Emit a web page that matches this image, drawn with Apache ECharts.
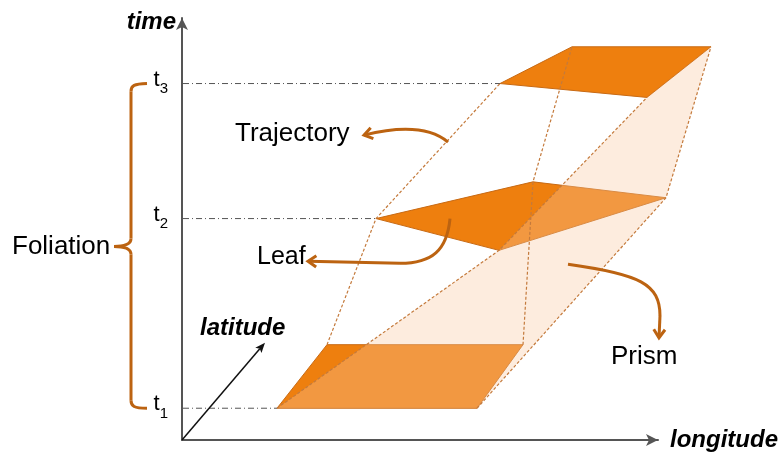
<!DOCTYPE html>
<html><head><meta charset="utf-8">
<script src="https://cdn.jsdelivr.net/npm/echarts@6/dist/echarts.min.js"></script>
<style>html,body{margin:0;padding:0;background:#fff}#c{width:781px;height:452px}</style>
</head><body><div id="c"></div>
<script>
// ---- data (axis units: x = longitude, y = time) ----
const timeTickValues = [41, 232, 368];
const timeTickSubs = ['1', '2', '3'];

const leafBottom = [[277, 41], [327, 105], [523, 105], [477, 41]];
const leafMiddle = [[376, 232], [533, 269], [666, 253], [499, 200]];
const leafTop = [[500, 368], [572, 405], [711, 405], [647, 354]];
const leaves = [leafBottom, leafMiddle, leafTop];

// vertex correspondences along the trajectories
const trajBottomIdx = [1, 0, 2, 3];
const trajMiddleIdx = [0, 3, 1, 2];
const trajTopIdx = [0, 3, 1, 2];

const latitudeFrom = [182, 9];
const latitudeTo = [265, 107];

const labelTexts = ['Trajectory', 'Leaf', 'Prism', 'Foliation'];
const labelSizes = [26, 25, 26, 26];
const labelPos = [[235, 317], [257, 193], [611, 93], [12, 204]];
const latitudeLabel = 'latitude';
const latitudeLabelPos = [200, 121];

// callout curves: [start, cp1, cp2, end, optional straight tail end]
const calloutTrajectory = [[448, 309], [430, 324], [400, 325], [364, 316]];
const calloutLeaf = [[450, 232], [447, 200], [432, 187], [400, 187], [308, 189]];
const calloutPrism = [[568, 186], [640, 176], [660, 166], [660, 134], [659, 112]];
const callouts = [calloutTrajectory, calloutLeaf, calloutPrism];

// foliation brace
const braceX = 131, braceTipX = 114, braceEndX = 147;
const braceTopY = 368, braceMidY = 204, braceBottomY = 41;

// ---- styles ----
const FONT = '"Liberation Sans", Arial, sans-serif';
const ORANGE = '#EE7F0E';
const ORANGE_EDGE = '#C86A14';
const ACCENT = '#BC6311';
const DASH = '#C47A3C';
const AXIS = '#555555';

const trajectories = trajBottomIdx.map((b, k) => [leafBottom[b], leafMiddle[trajMiddleIdx[k]], leafTop[trajTopIdx[k]]]);
const prismOutline = [leafBottom[0], leafMiddle[3], leafTop[3], leafTop[2], leafMiddle[2], leafBottom[3]];
const guideEnds = [leafBottom[0], leafMiddle[0], leafTop[0]];

function chevron(api, tip, from, len, color) {
  const a = api.coord(tip), b = api.coord(from);
  const ang = Math.atan2(a[1] - b[1], a[0] - b[0]);
  const w = 0.6;
  const p1 = [a[0] - len * Math.cos(ang - w), a[1] - len * Math.sin(ang - w)];
  const p2 = [a[0] - len * Math.cos(ang + w), a[1] - len * Math.sin(ang + w)];
  return { type: 'polyline', shape: { points: [p1, a, p2] }, style: { stroke: color, lineWidth: 3, fill: null, lineJoin: 'miter', lineCap: 'butt' } };
}

const chart = echarts.init(document.getElementById('c'), null, { renderer: 'canvas' });
chart.setOption({
  animation: false,
  backgroundColor: '#fff',
  grid: { left: 182, right: 123, top: 18, bottom: 9 },
  xAxis: {
    type: 'value', min: 182, max: 658,
    axisLine: { show: true, onZero: false, symbol: ['none', 'arrow'], symbolSize: [9, 12], lineStyle: { color: AXIS, width: 2 } },
    axisTick: { show: false }, axisLabel: { show: false }, splitLine: { show: false },
    name: 'longitude', nameLocation: 'end', nameGap: 12,
    nameTextStyle: { fontFamily: FONT, fontSize: 24, fontWeight: 'bold', fontStyle: 'italic', color: '#000', align: 'left', verticalAlign: 'middle', padding: [0, 0, 12, 0] }
  },
  yAxis: {
    type: 'value', min: 9, max: 434,
    axisLine: { show: true, onZero: false, symbol: ['none', 'arrow'], symbolSize: [9, 12], lineStyle: { color: AXIS, width: 2 } },
    axisTick: { show: false }, splitLine: { show: false },
    axisLabel: {
      show: true, customValues: timeTickValues, margin: 14, padding: [4, 0, 0, 0],
      formatter: function (v) {
        let i = timeTickValues.findIndex(t => Math.abs(t - v) < 0.5);
        return '{a|t}{b|' + (timeTickSubs[i] || '') + '}';
      },
      rich: {
        a: { fontFamily: FONT, fontSize: 22, color: '#000', lineHeight: 22, verticalAlign: 'bottom', padding: [0, 0, 6, 0] },
        b: { fontFamily: FONT, fontSize: 15, color: '#000', lineHeight: 15, verticalAlign: 'bottom' }
      }
    },
    name: 'time', nameLocation: 'end', nameGap: -4,
    nameTextStyle: { fontFamily: FONT, fontSize: 24, fontWeight: 'bold', fontStyle: 'italic', color: '#000', align: 'right', verticalAlign: 'middle', padding: [0, 6, 0, 0] }
  },
  series: [
    { // time guide lines
      type: 'custom', z: 2, data: guideEnds.map((p, i) => [i]),
      renderItem: function (params, api) {
        const i = params.dataIndex;
        const a = api.coord([182, timeTickValues[i]]), b = api.coord(guideEnds[i]);
        return { type: 'line', shape: { x1: a[0] + 1, y1: a[1], x2: b[0], y2: b[1] }, style: { stroke: AXIS, lineWidth: 1, lineDash: [6, 3, 1, 3] } };
      }
    },
    { // leaves
      type: 'custom', z: 3, data: leaves.map((l, i) => [i]),
      renderItem: function (params, api) {
        const pts = leaves[params.dataIndex].map(p => api.coord(p));
        return { type: 'polygon', shape: { points: pts }, style: { fill: ORANGE, stroke: ORANGE_EDGE, lineWidth: 1 } };
      }
    },
    { // prism
      type: 'custom', z: 4, data: [[0]],
      renderItem: function (params, api) {
        return { type: 'polygon', shape: { points: prismOutline.map(p => api.coord(p)) }, style: { fill: 'rgba(250,200,160,0.35)', stroke: null } };
      }
    },
    { // trajectories
      type: 'custom', z: 5, data: trajectories.map((t, i) => [i]),
      renderItem: function (params, api) {
        return { type: 'polyline', shape: { points: trajectories[params.dataIndex].map(p => api.coord(p)) }, style: { stroke: DASH, lineWidth: 1.2, lineDash: [3, 2], fill: null } };
      }
    },
    { // latitude axis arrow
      type: 'custom', z: 6, data: [[0]],
      renderItem: function (params, api) {
        const a = api.coord(latitudeFrom), b = api.coord(latitudeTo);
        const ang = Math.atan2(b[1] - a[1], b[0] - a[0]);
        const L = 11, W = 0.38;
        const h1 = [b[0] - L * Math.cos(ang - W), b[1] - L * Math.sin(ang - W)];
        const h2 = [b[0] - L * Math.cos(ang + W), b[1] - L * Math.sin(ang + W)];
        const base = [b[0] - 8 * Math.cos(ang), b[1] - 8 * Math.sin(ang)];
        return { type: 'group', children: [
          { type: 'line', shape: { x1: a[0], y1: a[1], x2: base[0], y2: base[1] }, style: { stroke: '#111', lineWidth: 1.5 } },
          { type: 'polygon', shape: { points: [b, h1, base, h2] }, style: { fill: '#111' } }
        ] };
      }
    },
    { // callout arrows
      type: 'custom', z: 7, data: callouts.map((c, i) => [i]),
      renderItem: function (params, api) {
        const c = callouts[params.dataIndex];
        const p = c.map(q => api.coord(q));
        const children = [{ type: 'bezierCurve', shape: { x1: p[0][0], y1: p[0][1], cpx1: p[1][0], cpy1: p[1][1], cpx2: p[2][0], cpy2: p[2][1], x2: p[3][0], y2: p[3][1] }, style: { stroke: ACCENT, lineWidth: 3, fill: null } }];
        if (c.length > 4) {
          children.push({ type: 'line', shape: { x1: p[3][0], y1: p[3][1], x2: p[4][0], y2: p[4][1] }, style: { stroke: ACCENT, lineWidth: 3 } });
          children.push(chevron(api, c[4], c[3], 10, ACCENT));
        } else {
          children.push(chevron(api, c[3], c[2], 10, ACCENT));
        }
        return { type: 'group', children: children };
      }
    },
    { // foliation brace
      type: 'custom', z: 7, data: [[0]],
      renderItem: function (params, api) {
        const C = (x, y) => api.coord([x, y]);
        const st = { stroke: ACCENT, lineWidth: 3, fill: null };
        const bz = (a, c1, c2, b) => ({ type: 'bezierCurve', shape: { x1: a[0], y1: a[1], cpx1: c1[0], cpy1: c1[1], cpx2: c2[0], cpy2: c2[1], x2: b[0], y2: b[1] }, style: st });
        const ln = (a, b) => ({ type: 'line', shape: { x1: a[0], y1: a[1], x2: b[0], y2: b[1] }, style: st });
        return { type: 'group', children: [
          bz(C(braceEndX, braceTopY), C(braceX + 3, braceTopY - 0.5), C(braceX, braceTopY - 2), C(braceX, braceTopY - 8)),
          ln(C(braceX, braceTopY - 8), C(braceX, braceMidY + 8)),
          bz(C(braceX, braceMidY + 8), C(braceX, braceMidY + 2), C(braceX - 6, braceMidY), C(braceTipX, braceMidY)),
          bz(C(braceTipX, braceMidY), C(braceX - 6, braceMidY), C(braceX, braceMidY - 2), C(braceX, braceMidY - 8)),
          ln(C(braceX, braceMidY - 8), C(braceX, braceBottomY + 8)),
          bz(C(braceX, braceBottomY + 8), C(braceX, braceBottomY + 2), C(braceX + 3, braceBottomY), C(braceEndX, braceBottomY))
        ] };
      }
    },
    { // text labels
      type: 'custom', z: 8, data: labelTexts.map((t, i) => [i]).concat([[labelTexts.length]]),
      renderItem: function (params, api) {
        const i = params.dataIndex;
        if (i === labelTexts.length) {
          const q = api.coord(latitudeLabelPos);
          return { type: 'text', style: { text: latitudeLabel, x: q[0], y: q[1], fill: '#000', fontFamily: FONT, fontSize: 24, fontWeight: 'bold', fontStyle: 'italic', align: 'left', verticalAlign: 'middle' } };
        }
        const q = api.coord(labelPos[i]);
        return { type: 'text', style: { text: labelTexts[i], x: q[0], y: q[1], fill: '#000', fontFamily: FONT, fontSize: labelSizes[i], align: 'left', verticalAlign: 'middle' } };
      }
    }
  ]
});
</script></body></html>
